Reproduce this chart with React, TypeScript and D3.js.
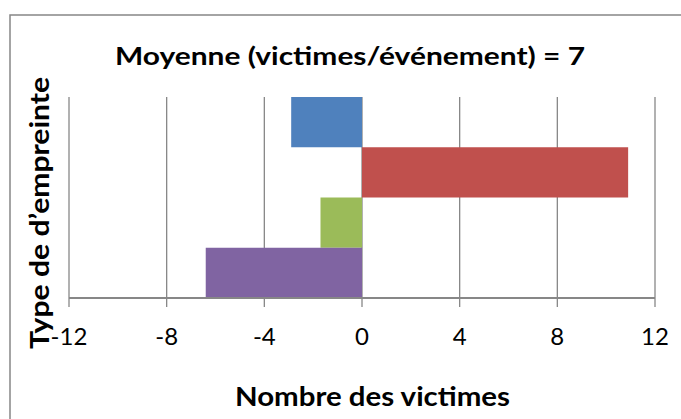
import * as d3 from "d3";

// catégories (les étiquettes ne sont pas affichées dans l'original)
const categories = ["Type 1", "Type 2", "Type 3", "Type 4"];
const values = [-2.9, 10.9, -1.7, -6.4];
const colors = ["#4F81BD", "#C0504D", "#9BBB59", "#8064A2"];
const ticks = [-12, -8, -4, 0, 4, 8, 12];

const WIDTH = 681;
const HEIGHT = 419;
const PLOT = { left: 69, right: 655, top: 97, bottom: 298 };
const FONT = "Lato, 'Open Sans', sans-serif";
const GRID = "#878787";

export default function App() {
  const xScale = d3.scaleLinear().domain([-12, 12]).range([PLOT.left, PLOT.right]);
  const yScale = d3
    .scaleBand()
    .domain(categories)
    .range([PLOT.top, PLOT.bottom])
    .padding(0);

  return (
    <svg
      width={WIDTH}
      height={HEIGHT}
      style={{ position: "absolute", left: 0, top: 0, background: "white" }}
    >
      {/* cadre du graphique */}
      <rect x={10} y={15} width={720} height={450} fill="white" stroke={GRID} strokeWidth={1.5} />

      {/* grille + graduations */}
      {ticks.map((t) => (
        <line
          key={"g" + t}
          x1={xScale(t)}
          x2={xScale(t)}
          y1={PLOT.top}
          y2={PLOT.bottom + 9}
          stroke={GRID}
          strokeWidth={1.3}
        />
      ))}

      {/* barres */}
      {categories.map((c, i) => {
        const v = values[i];
        const x0 = xScale(Math.min(0, v));
        const x1 = xScale(Math.max(0, v));
        return (
          <rect
            key={c}
            x={x0}
            y={yScale(c)}
            width={x1 - x0}
            height={yScale.bandwidth()}
            fill={colors[i]}
          />
        );
      })}

      {/* axe horizontal */}
      <line
        x1={PLOT.left}
        x2={PLOT.right}
        y1={PLOT.bottom}
        y2={PLOT.bottom}
        stroke={GRID}
        strokeWidth={2}
      />

      {ticks.map((t) => (
        <text
          key={"l" + t}
          x={xScale(t)}
          y={345}
          textAnchor="middle"
          fontFamily={FONT}
          fontSize={24}
          fill="#000"
        >
          {t}
        </text>
      ))}

      {/* titre */}
      <text
        x={350}
        y={65}
        textAnchor="middle"
        fontFamily={FONT}
        fontWeight="bold"
        fontSize={25}
        textLength={470}
        lengthAdjust="spacingAndGlyphs"
      >
        Moyenne (victimes/événement) = 7
      </text>

      {/* titre axe x */}
      <text
        x={372.5}
        y={406}
        textAnchor="middle"
        fontFamily={FONT}
        fontWeight="bold"
        fontSize={27}
        textLength={275}
        lengthAdjust="spacingAndGlyphs"
      >
        Nombre des victimes
      </text>

      {/* titre axe y */}
      <text
        transform={`translate(49,${213}) rotate(-90)`}
        textAnchor="middle"
        fontFamily={FONT}
        fontWeight="bold"
        fontSize={26}
        textLength={272}
        lengthAdjust="spacingAndGlyphs"
      >
        Type de d’empreinte
      </text>
    </svg>
  );
}
